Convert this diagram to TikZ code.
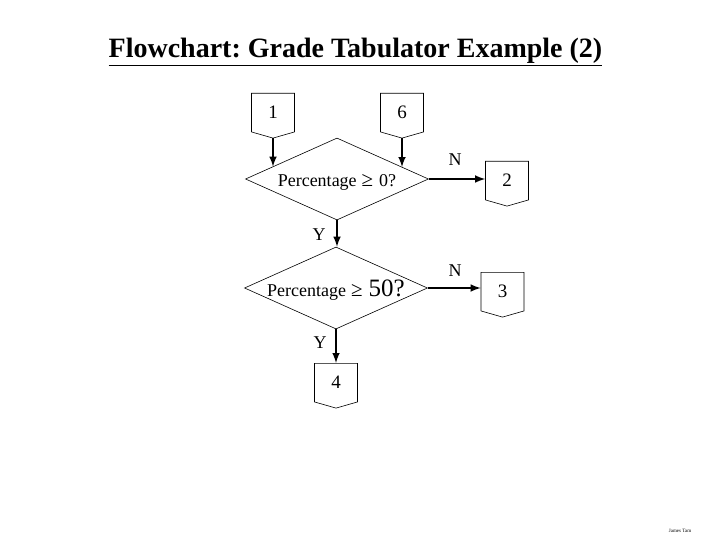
\documentclass[tikz,border=0pt]{standalone}
\usepackage{fontspec}
\setmainfont{Liberation Serif}
\usetikzlibrary{shapes.geometric, shapes.symbols, arrows, positioning, calc}
\tikzset{
    offpage/.style={draw, signal, signal to=south, signal from=nowhere, signal pointer angle=148, minimum width=43pt, minimum height=40pt, inner sep=0pt, line width=0.6pt, font=\fontsize{19}{19}\selectfont},
    decision/.style={draw, diamond, aspect=2.2, inner sep=0pt, minimum width=183pt, minimum height=82pt, text height=16pt, text depth=0pt, line width=0.6pt, font=\fontsize{18}{18}\selectfont},
    answer/.style={inner sep=0pt, font=\fontsize{18}{18}\selectfont},
    arrow/.style={->, >=latex, line width=2.4pt, draw=black}
}
\newcommand{\gesign}{\hspace{5pt}{\fontsize{21}{21}\selectfont ≥}\hspace{6pt}}

\begin{document}
\frenchspacing
\begin{tikzpicture}[x=1pt, y=-1pt]
        \useasboundingbox (0,0) rectangle (720,540);

        % -----------------------------------------------------------------
        % TITOLO
        % -----------------------------------------------------------------
        \node[anchor=base, font=\fontsize{28}{28}\selectfont\bfseries] (title) at (355.5,58) {\underline{Flowchart: Grade Tabulator Example (2)}};

        % -----------------------------------------------------------------
        % CONNETTORI E DECISIONI
        % -----------------------------------------------------------------
        \node[offpage, anchor=north] (c1) at (273,93) {1};
        \node[offpage, anchor=north] (c6) at (402,93) {6};

        \node[decision] (d1) at (337,179) {Percentage\gesign 0?\hspace{10pt}};
        \node[offpage, anchor=north] (c2) at (507,161) {2};

        \node[decision, text height=17pt] (d2) at (336,288) {Percentage\gesign{\fontsize{25}{25}\selectfont 50?}};
        \node[offpage, anchor=north] (c3) at (502.5,272) {3};

        \node[offpage, anchor=north] (c4) at (336,363) {4};

        % -----------------------------------------------------------------
        % FRECCE
        % -----------------------------------------------------------------
        \coordinate (e1) at ($(d1.west)!0.3!(d1.north)$);
        \coordinate (e6) at ($(d1.north)!0.71!(d1.east)$);
        \draw[arrow] (c1.south) -- (c1.south |- e1);
        \draw[arrow] (c6.south) -- (c6.south |- e6);

        \draw[arrow] (d1.east) -- (d1.east -| c2.west);
        \node[answer] (n1) at (455,160) {N};

        \draw[arrow] (d1.south) -- (d1.south |- d2.north);
        \node[answer] (y1) at (319,235) {Y};

        \draw[arrow] (d2.east) -- (d2.east -| c3.west);
        \node[answer] (n2) at (455,271) {N};

        \draw[arrow] (d2.south) -- (c4.north);
        \node[answer] (y2) at (320,343) {Y};

        % -----------------------------------------------------------------
        % FIRMA
        % -----------------------------------------------------------------
        \node[font=\fontsize{5}{5}\selectfont] (author) at (680,531) {James Tam};

    \end{tikzpicture}
\end{document}
